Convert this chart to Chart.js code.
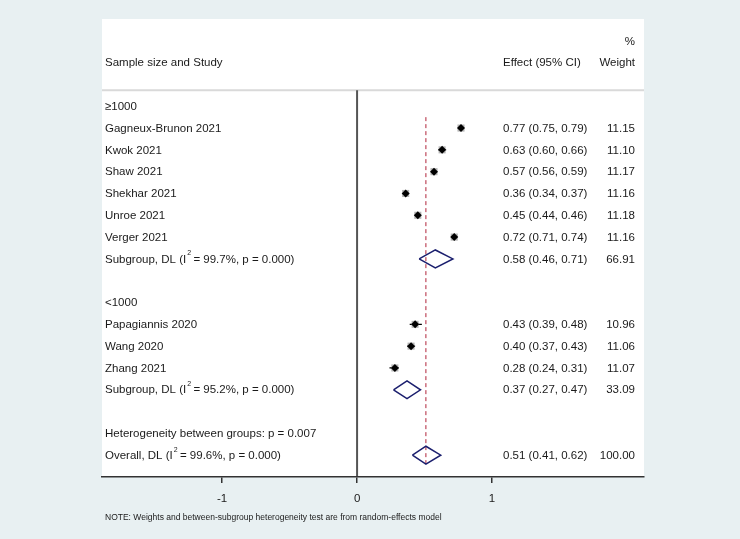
<!DOCTYPE html>
<html>
<head>
<meta charset="utf-8">
<script src="https://cdn.jsdelivr.net/npm/chart.js@4.4.0/dist/chart.umd.min.js"></script>
<style>
  html, body { margin: 0; padding: 0; background: #e8f0f2; }
  #wrap { width: 740px; height: 539px; position: relative; }
</style>
</head>
<body>
<div id="wrap"><canvas id="forest" width="740" height="539"></canvas></div>
<script>
// Study level data (rows counted from the first subgroup heading)
const studies = ['Gagneux-Brunon 2021', 'Kwok 2021', 'Shaw 2021', 'Shekhar 2021', 'Unroe 2021', 'Verger 2021',
                 'Papagiannis 2020', 'Wang 2020', 'Zhang 2021'];
const studyRows = [1, 2, 3, 4, 5, 6, 10, 11, 12];
const effect = [0.77, 0.63, 0.57, 0.36, 0.45, 0.72, 0.43, 0.40, 0.28];
const lower  = [0.75, 0.60, 0.56, 0.34, 0.44, 0.71, 0.39, 0.37, 0.24];
const upper  = [0.79, 0.66, 0.59, 0.37, 0.46, 0.74, 0.48, 0.43, 0.31];
const weight = [11.15, 11.10, 11.17, 11.16, 11.18, 11.16, 10.96, 11.06, 11.07];

// Pooled estimates (two subgroups + overall)
const pooledNames = ['Subgroup, DL', 'Subgroup, DL', 'Overall, DL'];
const pooledI2 = ['99.7%', '95.2%', '99.6%'];
const pooledP = ['0.000', '0.000', '0.000'];
const pooledRows = [7, 13, 16];
const pooledEffect = [0.58, 0.37, 0.51];
const pooledLower  = [0.46, 0.27, 0.41];
const pooledUpper  = [0.71, 0.47, 0.62];
const pooledWeight = [66.91, 33.09, 100.00];

// Headings inside the table
const headingText = ['≥1000', '<1000', 'Heterogeneity between groups: p = 0.007'];
const headingRows = [0, 9, 15];

const xTicks = [-1, 0, 1];

const FONT = "'Liberation Sans', Arial, sans-serif";
const TEXT = '#1a1a1a';
const NAVY = '#1b1f6e';

const fmt = v => v.toFixed(2);

// diamonds as closed polygons, separated by nulls
const diamondPts = [];
pooledRows.forEach((r, i) => {
    diamondPts.push({ x: pooledLower[i], y: r });
    diamondPts.push({ x: pooledEffect[i], y: r - 0.41 });
    diamondPts.push({ x: pooledUpper[i], y: r });
    diamondPts.push({ x: pooledEffect[i], y: r + 0.41 });
    diamondPts.push({ x: pooledLower[i], y: r });
    diamondPts.push({ x: null, y: null });
});

// confidence interval whiskers
const ciPts = [];
studyRows.forEach((r, i) => {
    ciPts.push({ x: lower[i], y: r });
    ciPts.push({ x: upper[i], y: r });
    ciPts.push({ x: null, y: null });
});

const overall = pooledEffect[2];

const backdrop = {
    id: 'backdrop',
    beforeDraw(chart) {
        const { ctx, chartArea: a, scales: { x, y } } = chart;
        ctx.save();
        ctx.fillStyle = '#e8f0f2';
        ctx.fillRect(0, 0, chart.width, chart.height);
        ctx.fillStyle = '#ffffff';
        ctx.fillRect(a.left, a.top, a.right - a.left, a.bottom - a.top);
        // header separator
        const sep = y.getPixelForValue(-0.73);
        ctx.strokeStyle = '#d9d9d9';
        ctx.lineWidth = 2;
        ctx.beginPath();
        ctx.moveTo(a.left, sep);
        ctx.lineTo(a.right, sep);
        ctx.stroke();
        // null line at 0
        const x0 = x.getPixelForValue(0);
        ctx.strokeStyle = '#555555';
        ctx.lineWidth = 2;
        ctx.beginPath();
        ctx.moveTo(x0, sep);
        ctx.lineTo(x0, a.bottom);
        ctx.stroke();
        // overall effect dashed line
        const xo = x.getPixelForValue(overall);
        ctx.strokeStyle = '#b0243a';
        ctx.lineWidth = 1;
        ctx.setLineDash([4, 3]);
        ctx.beginPath();
        ctx.moveTo(xo, y.getPixelForValue(0.5));
        ctx.lineTo(xo, y.getPixelForValue(16.4));
        ctx.stroke();
        ctx.restore();
    }
};

function drawI2(ctx, x0, yy, name, i2, p) {
    const a = name + ' (I';
    ctx.fillText(a, x0, yy);
    let w = ctx.measureText(a).width;
    ctx.save();
    ctx.font = '7px ' + FONT;
    ctx.fillText('2', x0 + w + 1, yy - 6);
    ctx.restore();
    ctx.fillText(' = ' + i2 + ', p = ' + p + ')', x0 + w + 4, yy);
}

const tableText = {
    id: 'tableText',
    afterDraw(chart) {
        const { ctx, chartArea: a, scales: { y } } = chart;
        const labX = a.left + 3;
        const effX = 503;
        const wtX = 635;
        const rowY = r => y.getPixelForValue(r) + 0.5;
        ctx.save();
        ctx.fillStyle = TEXT;
        ctx.font = '11.5px ' + FONT;
        ctx.textBaseline = 'middle';

        // header
        ctx.textAlign = 'left';
        ctx.fillText('Sample size and Study', labX, rowY(-2));
        ctx.fillText('Effect (95% CI)', effX, rowY(-2));
        ctx.textAlign = 'right';
        ctx.fillText('%', wtX, rowY(-2.97));
        ctx.fillText('Weight', wtX, rowY(-2));

        ctx.textAlign = 'left';
        headingText.forEach((t, i) => ctx.fillText(t, labX, rowY(headingRows[i])));

        studies.forEach((s, i) => {
            const yy = rowY(studyRows[i]);
            ctx.textAlign = 'left';
            ctx.fillText(s, labX, yy);
            ctx.fillText(fmt(effect[i]) + ' (' + fmt(lower[i]) + ', ' + fmt(upper[i]) + ')', effX, yy);
            ctx.textAlign = 'right';
            ctx.fillText(fmt(weight[i]), wtX, yy);
        });

        pooledNames.forEach((s, i) => {
            const yy = rowY(pooledRows[i]);
            ctx.textAlign = 'left';
            drawI2(ctx, labX, yy, s, pooledI2[i], pooledP[i]);
            ctx.fillText(fmt(pooledEffect[i]) + ' (' + fmt(pooledLower[i]) + ', ' + fmt(pooledUpper[i]) + ')', effX, yy);
            ctx.textAlign = 'right';
            ctx.fillText(fmt(pooledWeight[i]), wtX, yy);
        });

        // footnote
        ctx.textAlign = 'left';
        ctx.font = '8.5px ' + FONT;
        ctx.fillText('NOTE: Weights and between-subgroup heterogeneity test are from random-effects model', 105, 518);
        ctx.restore();
    }
};

new Chart(document.getElementById('forest'), {
    type: 'scatter',
    data: {
        datasets: [
            {
                label: 'CI',
                data: ciPts,
                showLine: true,
                spanGaps: false,
                borderColor: '#000000',
                borderWidth: 1.2,
                pointRadius: 0,
                order: 3
            },
            {
                label: 'Weight box',
                data: studyRows.map((r, i) => ({ x: effect[i], y: r })),
                pointStyle: 'rect',
                pointRadius: weight.map(w => Math.sqrt(w) * 1.5),
                backgroundColor: '#b4b4b4',
                borderWidth: 0,
                order: 2
            },
            {
                label: 'Estimate',
                data: studyRows.map((r, i) => ({ x: effect[i], y: r })),
                pointStyle: 'rectRot',
                pointRadius: 4,
                backgroundColor: '#000000',
                borderWidth: 0,
                order: 1
            },
            {
                label: 'Pooled',
                data: diamondPts,
                showLine: true,
                spanGaps: false,
                borderColor: NAVY,
                borderWidth: 1.5,
                pointRadius: 0,
                fill: false,
                order: 0
            }
        ]
    },
    options: {
        responsive: false,
        animation: false,
        events: [],
        layout: { padding: { left: 102, right: 96, top: 19, bottom: 0 } },
        plugins: { legend: { display: false }, tooltip: { enabled: false } },
        scales: {
            x: {
                type: 'linear',
                min: -1.89,
                max: 2.126,
                afterBuildTicks: s => { s.ticks = xTicks.map(v => ({ value: v })); },
                afterFit: s => { s.height = 62; },
                grid: { drawOnChartArea: false, drawTicks: true, tickLength: 6, color: '#333333', lineWidth: 1.5 },
                border: { display: true, color: '#333333', width: 1.5 },
                ticks: { font: { size: 11.5, family: FONT }, color: TEXT, padding: 9, maxRotation: 0 }
            },
            y: {
                type: 'linear',
                min: -4,
                max: 17,
                reverse: true,
                display: false
            }
        }
    },
    plugins: [backdrop, tableText]
});
</script>
</body>
</html>
